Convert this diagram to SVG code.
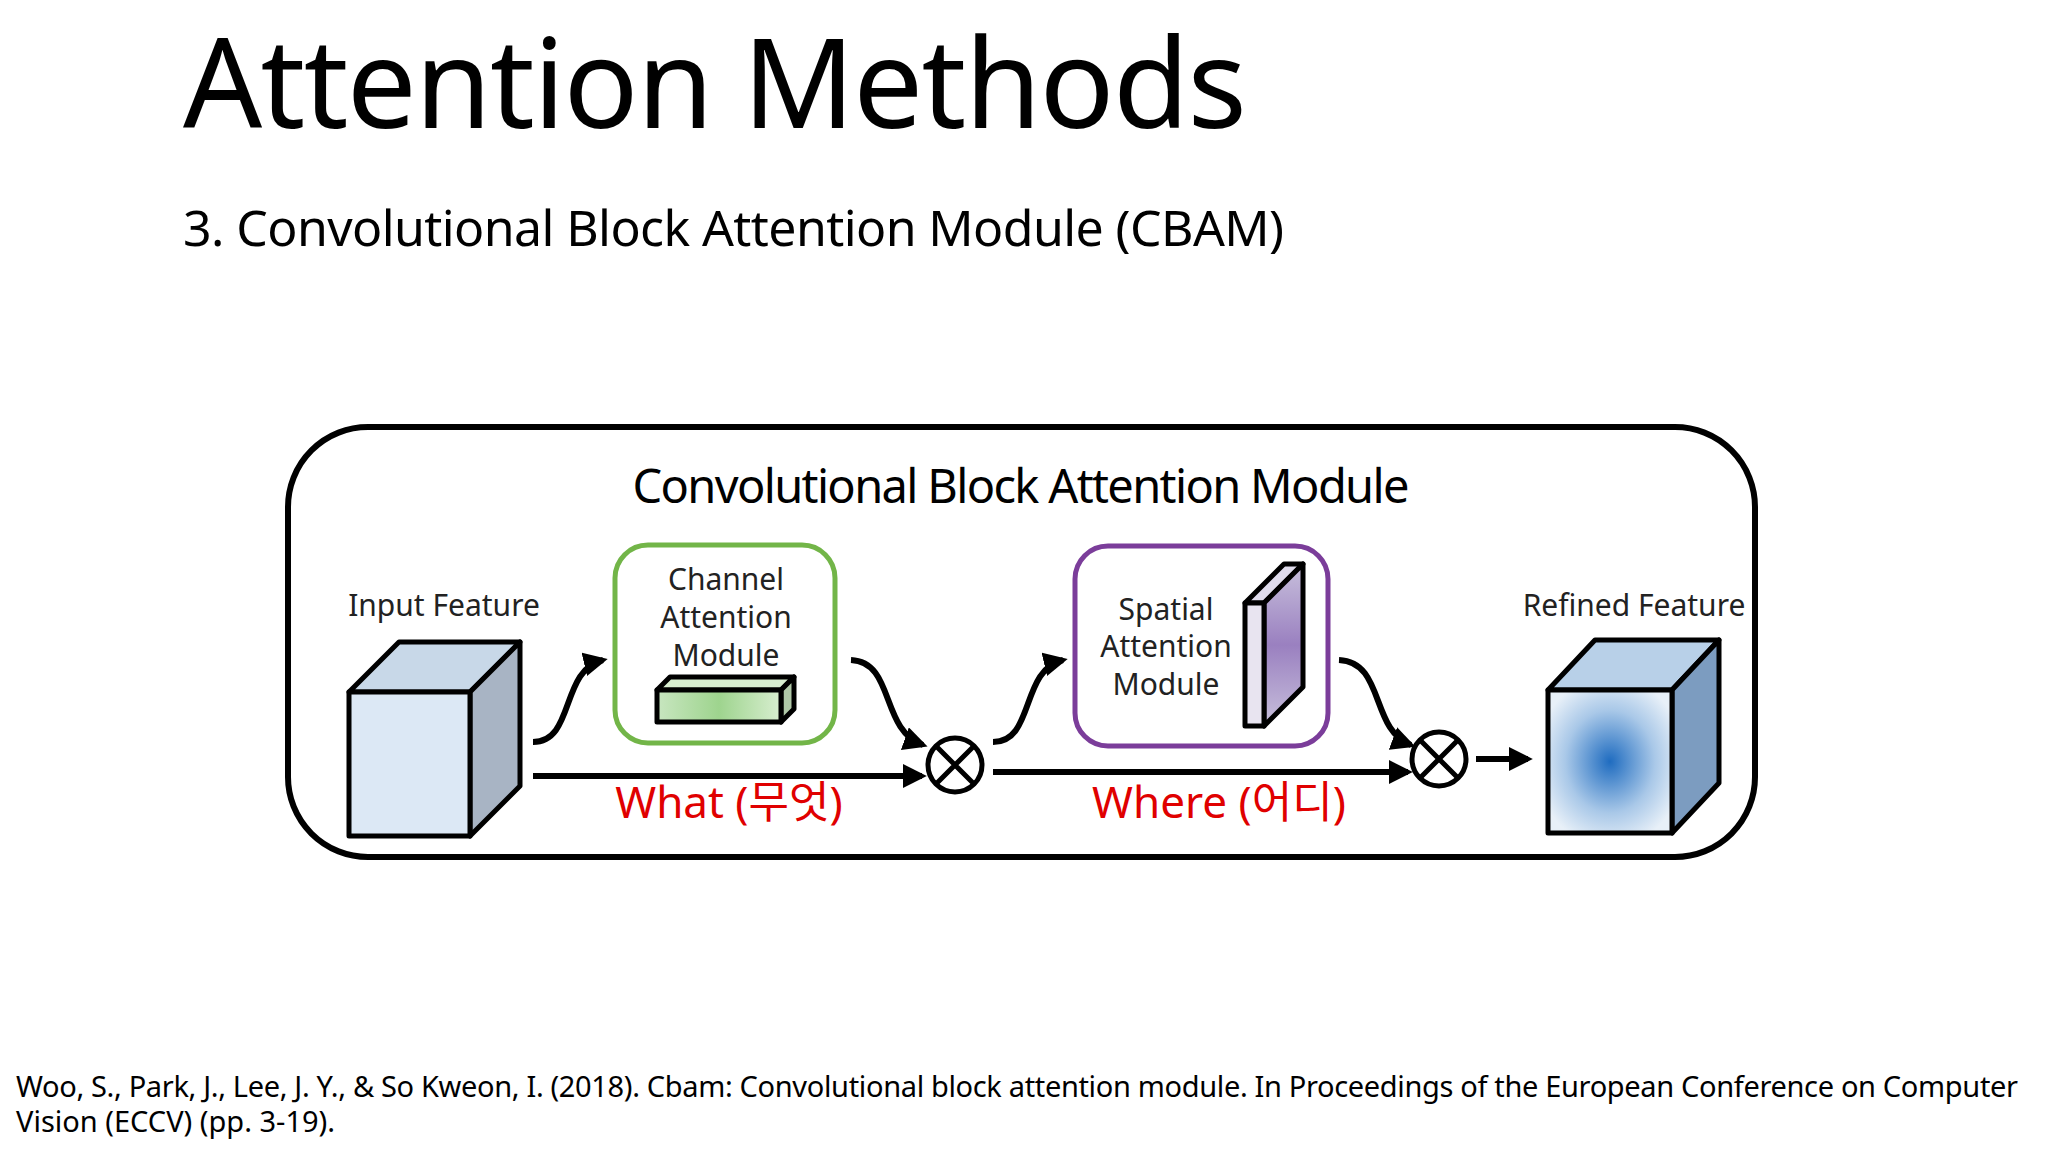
<svg xmlns="http://www.w3.org/2000/svg" width="2048" height="1152" viewBox="0 0 2048 1152">
<defs>
<style>
text{font-family:"Noto Sans","Noto Sans CJK KR",sans-serif;fill:#000}
.lbl{font-size:30px;text-anchor:middle;fill:#222}
.red{font-size:44px;text-anchor:middle;fill:#e00000}
.ln{fill:none;stroke:#000;stroke-width:6}
.cf{stroke:#000;stroke-width:5;stroke-linejoin:round}
</style>
<marker id="ah" viewBox="0 0 10 10" refX="8" refY="5" markerWidth="4" markerHeight="4" orient="auto"><path d="M0,0L10,5L0,10z" fill="#000"/></marker>
<radialGradient id="rg" cx="0.5" cy="0.5" r="0.6"><stop offset="0" stop-color="#1f6cc0"/><stop offset="0.6" stop-color="#a9c8e8"/><stop offset="1" stop-color="#e8f0f8"/></radialGradient>
<linearGradient id="gg" x1="0" x2="1"><stop offset="0" stop-color="#c8e6c0"/><stop offset="0.5" stop-color="#9ed48e"/><stop offset="1" stop-color="#d8eed0"/></linearGradient>
<linearGradient id="pg" x1="0" y1="0" x2="0" y2="1"><stop offset="0" stop-color="#c8c0dc"/><stop offset="0.5" stop-color="#9a80c0"/><stop offset="1" stop-color="#c8c0dc"/></linearGradient>
</defs>
<rect width="2048" height="1152" fill="#fff"/>
<text x="183" y="128" font-size="124" textLength="1064" lengthAdjust="spacing">Attention Methods</text>
<text x="183" y="246" font-size="50" textLength="1101">3. Convolutional Block Attention Module (CBAM)</text>
<text x="16" y="1097" font-size="29" textLength="2002" fill="#222">Woo, S., Park, J., Lee, J. Y., &amp; So Kweon, I. (2018). Cbam: Convolutional block attention module. In Proceedings of the European Conference on Computer</text>
<text x="16" y="1132" font-size="29" fill="#222">Vision (ECCV) (pp. 3-19).</text>
<g id="frame">
<rect x="288" y="427" width="1467" height="430" rx="80" fill="none" stroke="#000" stroke-width="6"/>
</g>
<text x="1021" y="503" font-size="47" text-anchor="middle" textLength="777">Convolutional Block Attention Module</text>
<g id="input">
<text class="lbl" x="444" y="616">Input Feature</text>
<polygon class="cf" points="349,692 399,642 520,642 470,692" fill="#c8d8e8"/>
<polygon class="cf" points="470,692 520,642 520,786 470,836" fill="#a8b4c4"/>
<rect class="cf" x="349" y="692" width="121" height="144" fill="#dce8f5"/>
</g>
<g id="channel">
<rect x="615" y="545" width="220" height="198" rx="33" fill="#fff" stroke="#72b548" stroke-width="5"/>
<text class="lbl" x="726" y="590">Channel</text>
<text class="lbl" x="726" y="628">Attention</text>
<text class="lbl" x="726" y="666">Module</text>
<polygon class="cf" points="657,690 670,677 794,677 781,690" fill="#d8eed0" stroke-width="4"/>
<polygon class="cf" points="781,690 794,677 794,709 781,722" fill="#b0c8a8" stroke-width="4"/>
<rect class="cf" x="657" y="690" width="124" height="32" fill="url(#gg)" stroke-width="4"/>
</g>
<g id="spatial">
<rect x="1075" y="546" width="253" height="200" rx="33" fill="#fff" stroke="#7b3d9a" stroke-width="5"/>
<text class="lbl" x="1166" y="620">Spatial</text>
<text class="lbl" x="1166" y="657">Attention</text>
<text class="lbl" x="1166" y="695">Module</text>
<polygon class="cf" points="1245,603 1284,564 1303,564 1264,603" fill="#e0dcec" stroke-width="4"/>
<polygon class="cf" points="1264,603 1303,564 1303,687 1264,726" fill="url(#pg)" stroke-width="4"/>
<rect class="cf" x="1245" y="603" width="19" height="123" fill="#e8e4f0" stroke-width="4"/>
</g>
<g id="refined">
<text class="lbl" x="1634" y="616">Refined Feature</text>
<polygon class="cf" points="1548,690 1595,640 1719,640 1672,690" fill="#b8d0e8"/>
<polygon class="cf" points="1672,690 1719,640 1719,783 1672,833" fill="#7c9cc0"/>
<rect class="cf" x="1548" y="690" width="124" height="143" fill="url(#rg)"/>
</g>
<g id="mul1"><circle cx="955" cy="765" r="27" fill="#fff" stroke="#000" stroke-width="5"/><path d="M937,747L973,783M973,747L937,783" stroke="#000" stroke-width="5"/></g>
<g id="mul2"><circle cx="1439" cy="759" r="27" fill="#fff" stroke="#000" stroke-width="5"/><path d="M1421,741L1457,777M1457,741L1421,777" stroke="#000" stroke-width="5"/></g>
<g id="connectors">
<path class="ln" d="M533,776H922" marker-end="url(#ah)"/>
<path class="ln" d="M993,772H1408" marker-end="url(#ah)"/>
<path class="ln" d="M1476,759H1528" marker-end="url(#ah)"/>
<path class="ln" d="M533,742C575,742 560,670 603,660" marker-end="url(#ah)"/>
<path class="ln" d="M851,660C895,662 880,730 923,745" marker-end="url(#ah)"/>
<path class="ln" d="M993,742C1035,742 1020,670 1063,660" marker-end="url(#ah)"/>
<path class="ln" d="M1339,660C1385,662 1370,730 1411,745" marker-end="url(#ah)"/>
</g>
<text class="red" x="729" y="818">What (무엇)</text>
<text class="red" x="1219" y="818">Where (어디)</text>
</svg>
